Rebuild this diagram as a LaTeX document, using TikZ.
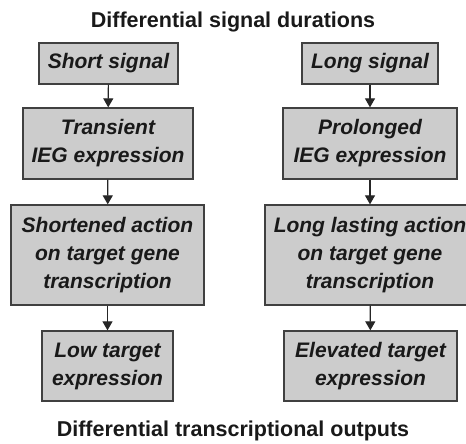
\documentclass[tikz,border=0pt]{standalone}
\usepackage{fontspec}
\setmainfont{Liberation Sans}
\usetikzlibrary{arrows.meta}
\begin{document}
\begin{tikzpicture}[x=1pt,y=-1pt,
  box/.style={draw=black!75, line width=1.3pt, fill=black!20,
    font=\fontsize{21}{28}\selectfont\bfseries\itshape, align=center,
    inner sep=0pt, text=black!90},
  ttl/.style={font=\fontsize{21.5}{24}\selectfont\bfseries, text=black!90, inner sep=0pt},
  arr/.style={-{Triangle[length=9pt,width=10pt]}, line width=1.2pt, draw=black!85}
]
\useasboundingbox (0,0) rectangle (466,444);
\fill[white] (0,0) rectangle (466,444);
\node[ttl] (t1) at (233,22) {Differential signal durations};
\node[ttl] (t2) at (233,431) {Differential transcriptional outputs};

\node[box, minimum width=139pt, minimum height=41pt] (l1) at (108.5,63.5) {Short signal};
\node[box, minimum width=170pt, minimum height=71pt] (l2) at (108,143.5) {Transient\\IEG expression};
\node[box, minimum width=193pt, minimum height=100pt] (l3) at (107.5,255) {Shortened action\\on target gene\\transcription};
\node[box, minimum width=131pt, minimum height=70pt] (l4) at (107.5,366) {Low target\\expression};

\node[box, minimum width=136pt, minimum height=41pt] (r1) at (370,63.5) {Long signal};
\node[box, minimum width=174pt, minimum height=71pt] (r2) at (370,143.5) {Prolonged\\IEG expression};
\node[box, minimum width=210pt, minimum height=100pt] (r3) at (370,255) {Long lasting action\\on target gene\\transcription};
\node[box, minimum width=173pt, minimum height=70pt] (r4) at (370.5,366) {Elevated target\\expression};

\draw[arr] (l1) -- (l2);
\draw[arr] (l2) -- (l3);
\draw[arr] (l3) -- (l4);
\draw[arr] (r1) -- (r2);
\draw[arr] (r2) -- (r3);
\draw[arr] (r3) -- (r4);
\end{tikzpicture}
\end{document}
